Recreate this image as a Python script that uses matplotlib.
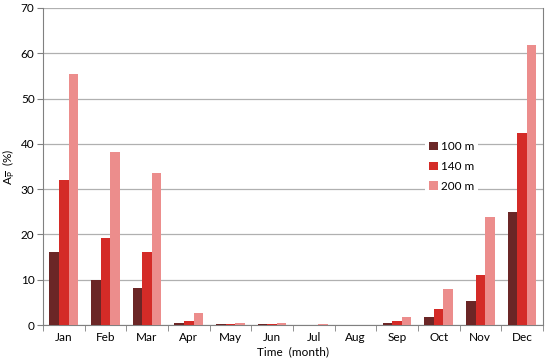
import numpy as np
import matplotlib
matplotlib.use("Agg")
import matplotlib.pyplot as plt

months = ['Jan', 'Feb', 'Mar', 'Apr', 'May', 'Jun', 'Jul', 'Aug', 'Sep', 'Oct', 'Nov', 'Dec']
series_names = ['100 m', '140 m', '200 m']
vals_100 = [16.1, 10.0, 8.1, 0.5, 0.2, 0.2, 0.05, 0.05, 0.5, 1.7, 5.3, 24.9]
vals_140 = [32.1, 19.3, 16.1, 1.0, 0.2, 0.2, 0.05, 0.05, 0.8, 3.5, 11.1, 42.3]
vals_200 = [55.5, 38.3, 33.5, 2.6, 0.4, 0.4, 0.2, 0.05, 1.8, 8.0, 23.9, 61.8]

colors = ['#6B2626', '#D42B27', '#EC8D8C']

plt.rcParams['font.family'] = ['Lato', 'DejaVu Sans']
plt.rcParams['font.size'] = 8.5
plt.rcParams['mathtext.fontset'] = 'custom'
plt.rcParams['mathtext.rm'] = 'Lato'
plt.rcParams['mathtext.it'] = 'Lato'

fig = plt.figure(figsize=(5.5, 3.6), dpi=100)
ax = fig.add_axes([0.078, 0.097, 0.909, 0.881])

x = np.arange(len(months))
w = 0.23
for i, (vals, name) in enumerate(zip([vals_100, vals_140, vals_200], series_names)):
    ax.bar(x + (i - 1) * w, vals, width=w, color=colors[i], label=name, zorder=3)

ax.set_xlim(-0.5, len(months) - 0.5)
ax.set_ylim(0, 70)
ax.set_yticks(range(0, 71, 10))
ax.set_xticks(x)
ax.set_xticklabels(months)
ax.set_xticks(np.arange(-0.5, len(months), 1), minor=True)
ax.tick_params(axis='x', which='major', length=0, pad=5)
ax.tick_params(axis='x', which='minor', length=4, direction='out', color='#808080')
ax.tick_params(axis='y', length=4, direction='out', color='#808080', pad=2)

ax.yaxis.grid(True, color='#B0B0B0', linewidth=0.9, zorder=0)
ax.set_axisbelow(True)
ax.spines['top'].set_visible(False)
for s in ['left', 'bottom', 'right']:
    ax.spines[s].set_color('#808080')

ax.set_ylabel(r'A$_{\overline{\mathrm{P}}}$  (%)', labelpad=3)
ax.set_xlabel('Time  (month)', labelpad=2)

leg = ax.legend(loc='center', bbox_to_anchor=(0.818, 0.5), frameon=True,
                framealpha=1, edgecolor='none', fancybox=False,
                handlelength=0.75, handleheight=0.75, handletextpad=0.3,
                labelspacing=0.75, borderpad=0.3, fontsize=8.5)
leg.get_frame().set_facecolor('white')

fig.savefig('out.png', dpi=100, facecolor='white')
